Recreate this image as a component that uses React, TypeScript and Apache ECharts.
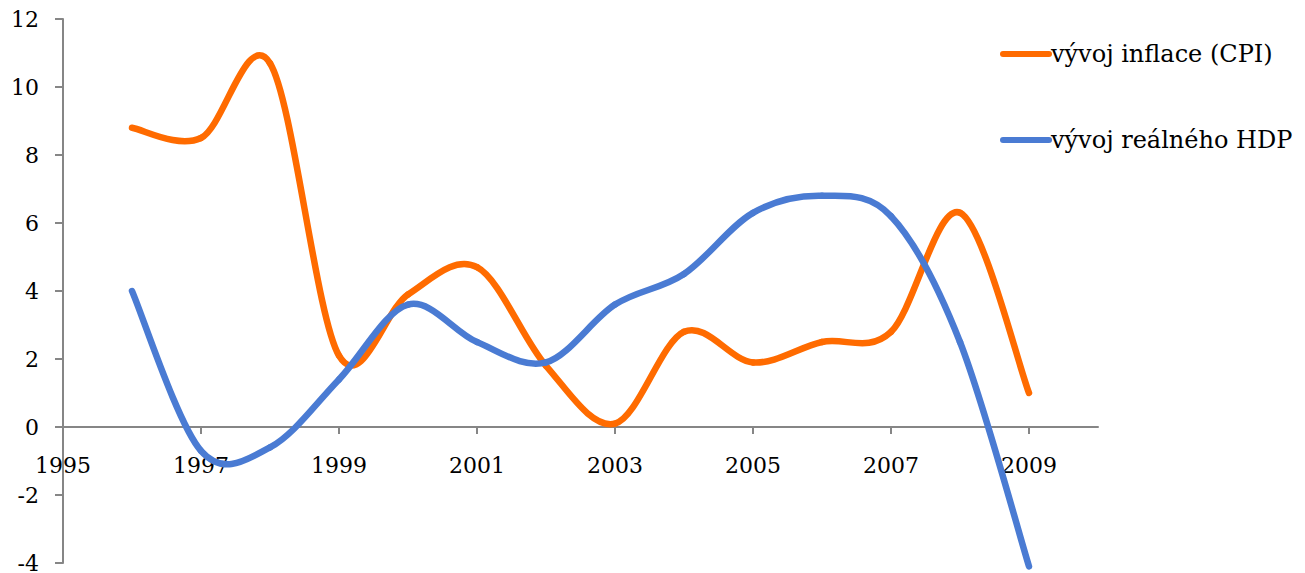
import React, { useEffect, useRef } from "react";
import * as echarts from "echarts";

const years = [1996, 1997, 1998, 1999, 2000, 2001, 2002, 2003, 2004, 2005, 2006, 2007, 2008, 2009];
const inflation = [8.8, 8.5, 10.7, 2.1, 3.9, 4.7, 1.8, 0.1, 2.8, 1.9, 2.5, 2.8, 6.3, 1.0];
const gdp = [4.0, -0.7, -0.6, 1.4, 3.6, 2.5, 1.9, 3.6, 4.5, 6.3, 6.8, 6.2, 2.5, -4.1];
const seriesNames = ["vývoj inflace (CPI)", "vývoj reálného HDP"];
const seriesColors = ["#FF6B00", "#4A7BD3"];
const xLabelValues = [1995, 1997, 1999, 2001, 2003, 2005, 2007, 2009];
const xTickValues = [1997, 1999, 2001, 2003, 2005, 2007, 2009];

const FONT = "DejaVu Serif";

function smoothSeries(name: string, values: number[], color: string) {
  const n = years.length;
  const ci = (j: number) => Math.max(0, Math.min(n - 1, j));
  return {
    name,
    type: "custom",
    coordinateSystem: "cartesian2d",
    clip: false,
    encode: { x: 0, y: 1 },
    itemStyle: { color },
    data: years.map((y, i) => [y, values[i]]),
    renderItem: (params: any, api: any) => {
      const i = params.dataIndex;
      if (i >= n - 1) return null;
      const p = (j: number) => api.coord([years[ci(j)], values[ci(j)]]);
      const P0 = p(i - 1), P1 = p(i), P2 = p(i + 1), P3 = p(i + 2);
      const k = 1 / 6;
      return {
        type: "bezierCurve",
        shape: {
          x1: P1[0],
          y1: P1[1],
          x2: P2[0],
          y2: P2[1],
          cpx1: P1[0] + (P2[0] - P0[0]) * k,
          cpy1: P1[1] + (P2[1] - P0[1]) * k,
          cpx2: P2[0] - (P3[0] - P1[0]) * k,
          cpy2: P2[1] - (P3[1] - P1[1]) * k,
        },
        style: { stroke: color, lineWidth: 6.5, fill: null, lineCap: "round" },
      };
    },
  };
}

export default function App() {
  const ref = useRef<HTMLDivElement>(null);
  useEffect(() => {
    const chart = echarts.init(ref.current!, undefined, { renderer: "svg" });
    const legendIcon = "path://M3,0 L49,0 A3,3 0 0 1 49,6 L3,6 A3,3 0 0 1 3,0 Z";
    chart.setOption({
      animation: false,
      backgroundColor: "#ffffff",
      grid: { left: 63, right: 207, top: 19, bottom: 10, containLabel: false, outerBoundsMode: "none" },
      legend: {
        orient: "vertical",
        left: 995,
        top: 37,
        itemWidth: 52,
        itemHeight: 6,
        itemGap: 62,
        textStyle: { fontFamily: FONT, fontSize: 24, color: "#000", padding: [0, 0, 0, -6] },
        data: seriesNames.map((n) => ({ name: n, icon: legendIcon })),
      },
      xAxis: {
        type: "value",
        min: 1995,
        max: 2010,
        interval: 2,
        offset: -136,
        splitLine: { show: false },
        axisLine: { onZero: false, lineStyle: { color: "#868686", width: 2 } },
        axisTick: { show: true, length: 7, lineStyle: { color: "#868686", width: 2 }, customValues: xTickValues },
        axisLabel: {
          customValues: xLabelValues,
          margin: 27,
          fontFamily: FONT,
          fontSize: 22,
          color: "#000",
          formatter: (v: number) => String(v),
        },
      },
      yAxis: {
        type: "value",
        min: -4,
        max: 12,
        interval: 2,
        splitLine: { show: false },
        axisLine: { show: true, lineStyle: { color: "#868686", width: 2 } },
        axisTick: { show: true, length: 8, lineStyle: { color: "#868686", width: 2 } },
        axisLabel: { margin: 24, fontFamily: FONT, fontSize: 22, color: "#000" },
      },
      series: [
        smoothSeries(seriesNames[0], inflation, seriesColors[0]),
        smoothSeries(seriesNames[1], gdp, seriesColors[1]),
      ],
    });
    return () => chart.dispose();
  }, []);
  return <div ref={ref} style={{ width: 1305, height: 573, position: "absolute", left: 0, top: 0 }} />;
}
